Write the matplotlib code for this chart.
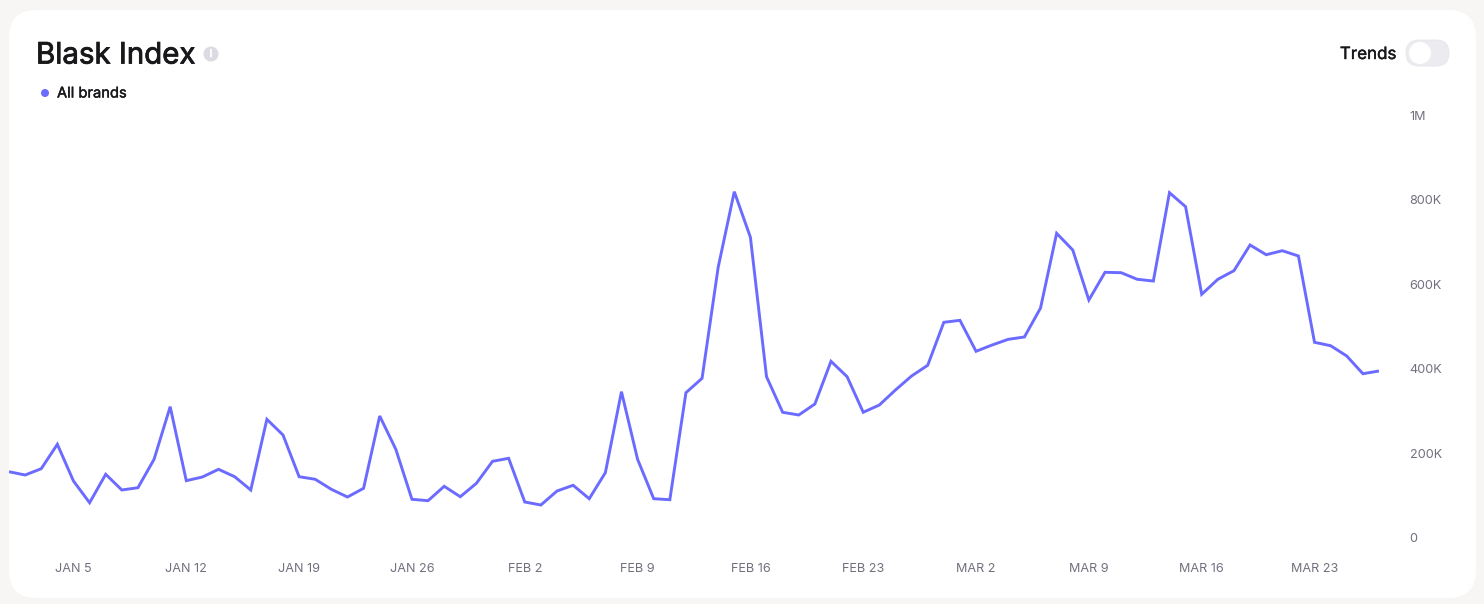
import matplotlib
matplotlib.use("Agg")
import matplotlib.pyplot as plt
import matplotlib.dates as mdates
import matplotlib.patheffects as pe
from matplotlib.patches import Circle, FancyBboxPatch
import pandas as pd

plt.rcParams['font.family'] = ['Inter', 'DejaVu Sans']

# Values, one per day, in thousands
index_values = [
    156.7, 148.9, 163.8, 221.5, 134.7, 83.4, 150.6, 113.5, 118.9, 186.0,
    310.4, 135.5, 144.2, 162.4, 144.9, 113.5, 280.6, 243.5, 144.9, 138.8,
    115.1, 96.9, 117.5, 288.4, 209.7, 91.5, 88.2, 122.2, 97.6, 129.3,
    181.3, 188.4, 85.1, 78.0, 111.1, 124.6, 92.9, 154.4, 345.9, 186.0,
    92.9, 90.5, 343.5, 377.5, 639.9, 818.7, 710.9, 381.3, 297.2, 290.8,
    316.8, 417.7, 381.3, 297.2, 314.4, 349.9, 383.0, 408.3, 509.9, 514.6,
    441.4, 456.3, 469.7, 475.2, 543.7, 720.3, 680.8, 562.6, 628.1, 627.2,
    611.6, 607.5, 816.3, 783.2, 576.1, 611.6, 631.9, 692.7, 669.7, 679.2,
    666.7, 462.6, 454.6, 430.2, 388.4, 394.8,
]
start_date = "2025-01-01"
date_ticks = ["2025-01-05", "2025-01-12", "2025-01-19", "2025-01-26", "2025-02-02", "2025-02-09",
              "2025-02-16", "2025-02-23", "2025-03-02", "2025-03-09", "2025-03-16", "2025-03-23"]
date_labels = ["JAN 5", "JAN 12", "JAN 19", "JAN 26", "FEB 2", "FEB 9",
               "FEB 16", "FEB 23", "MAR 2", "MAR 9", "MAR 16", "MAR 23"]
y_ticks = [0, 200, 400, 600, 800, 1000]
y_labels = ["0", "200K", "400K", "600K", "800K", "1M"]

LINE = '#6B6BFF'
GREY = '#71707F'
DARK = '#18181B'
W, H = 1484, 604


# Installed Inter has one weight, a thin stroke makes the headings heavier
def heavier(width):
    return [pe.withStroke(linewidth=width, foreground=DARK)]


fig = plt.figure(figsize=(W / 100, H / 100), dpi=100, facecolor='#F7F6F4')

# Card and header are drawn in pixel coordinates
bg = fig.add_axes([0, 0, 1, 1])
bg.set_xlim(0, W)
bg.set_ylim(H, 0)
bg.axis('off')
bg.add_patch(FancyBboxPatch((9 + 28, 10 + 28), 1467 - 56, 588 - 56,
                            boxstyle="round,pad=28,rounding_size=28",
                            fc='white', ec='none'))
bg.text(36, 53, "Blask Index", fontsize=21.2, color=DARK, va='center_baseline',
        path_effects=heavier(0.6))
bg.add_patch(Circle((211, 54), 7.5, fc='#DCDBE4', ec='none'))
bg.text(211, 54, "i", fontsize=7.5, color='white', ha='center', va='center',
        path_effects=[pe.withStroke(linewidth=0.6, foreground='white')])
bg.add_patch(Circle((45, 93), 4, fc=LINE, ec='none'))
bg.text(57, 92, "All brands", fontsize=10.6, color=DARK, va='center_baseline',
        path_effects=heavier(0.3))
bg.text(1396, 53, "Trends", fontsize=12.2, color=DARK, ha='right', va='center_baseline',
        path_effects=heavier(0.3))
bg.add_patch(FancyBboxPatch((1406 + 13, 40 + 13), 43 - 26, 0.01,
                            boxstyle="round,pad=13,rounding_size=13",
                            fc='#ECECF0', ec='#E6E6EB', lw=0.6))
bg.add_patch(Circle((1420, 53), 11, fc='white', ec='none'))

# Chart axes: 0 at y=538 px, 1M at y=115 px, first day at x=9 px, last at x=1379 px
ax = fig.add_axes([9 / W, (H - 538) / H, (1379 - 9) / W, (538 - 115) / H])
ax.patch.set_visible(False)

dates = pd.date_range(start_date, periods=len(index_values), freq='D')
ax.plot(dates, index_values, color=LINE, linewidth=2.1, solid_joinstyle='miter', solid_capstyle='butt')

ax.set_xlim(dates[0], dates[-1])
ax.set_ylim(0, 1000)
ax.set_xticks(mdates.date2num(pd.to_datetime(date_ticks)))
ax.set_xticklabels(date_labels)
ax.set_yticks(y_ticks)
ax.set_yticklabels(y_labels)
ax.yaxis.tick_right()
for side in ax.spines.values():
    side.set_visible(False)
ax.tick_params(axis='x', length=0, pad=18, labelsize=9.1, labelcolor=GREY)
ax.tick_params(axis='y', length=0, pad=22, labelsize=9.1, labelcolor=GREY)

fig.savefig("out.png", dpi=100, facecolor=fig.get_facecolor())
